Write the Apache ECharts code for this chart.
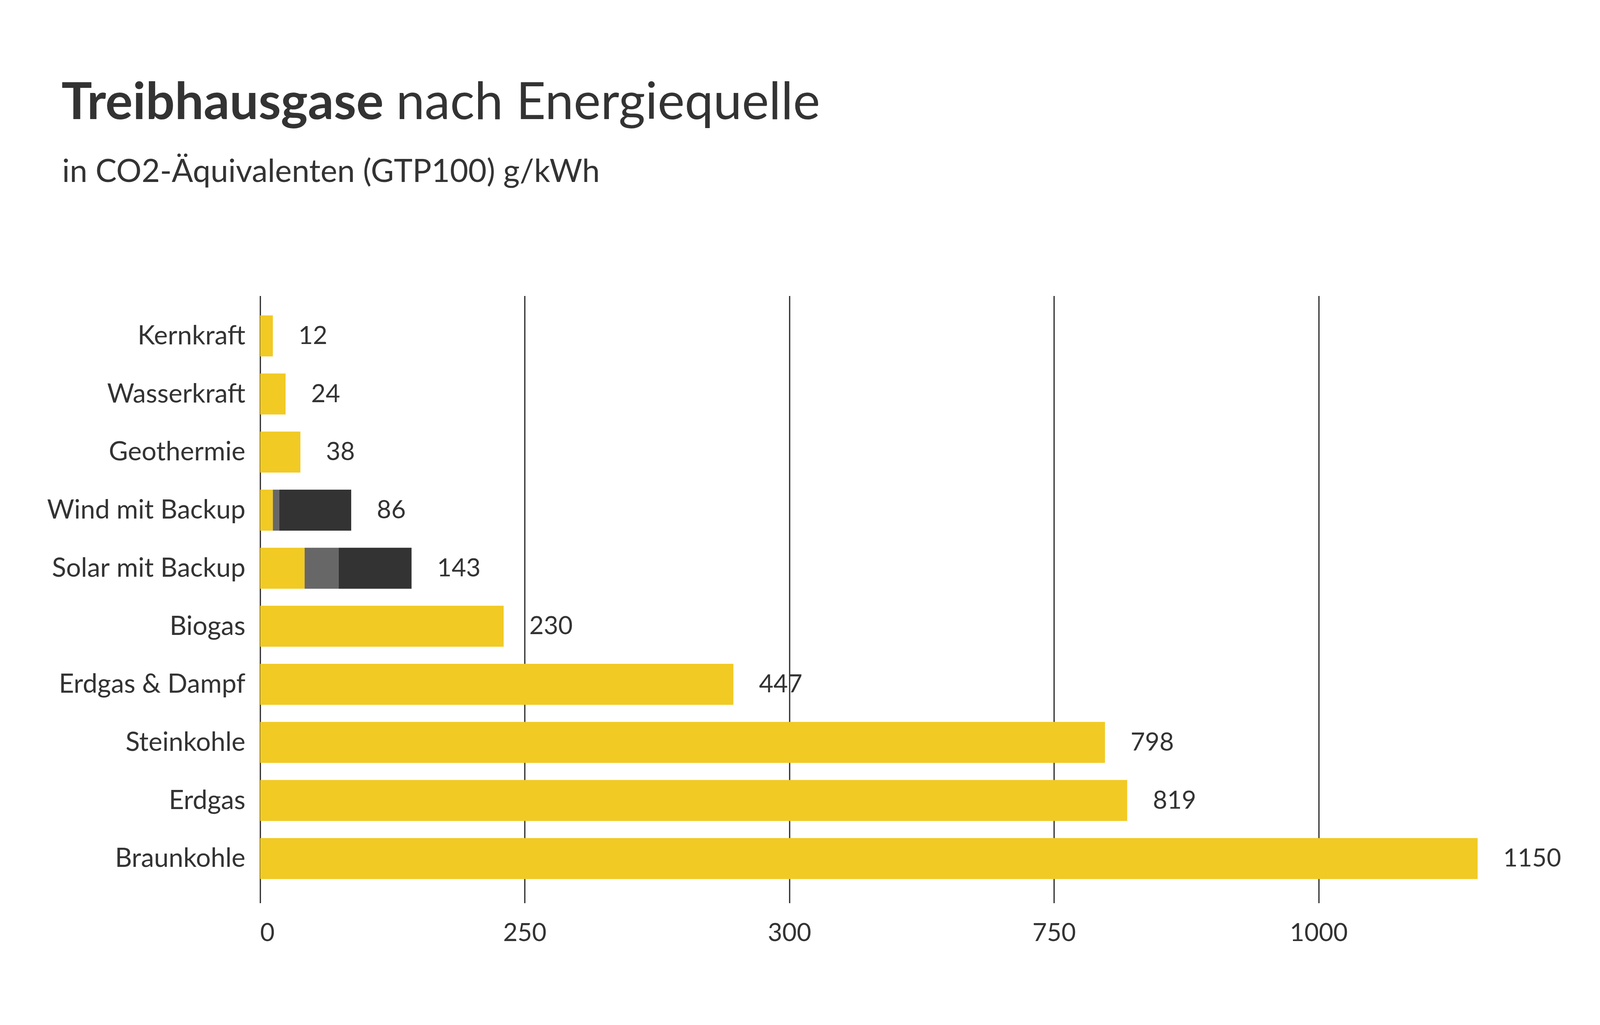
<!DOCTYPE html>
<html>
<head>
<meta charset="utf-8">
<script src="https://cdn.jsdelivr.net/npm/echarts@6/dist/echarts.min.js"></script>
<style>html,body{margin:0;padding:0;background:#fff;overflow:hidden}#c{width:100vw;height:100vh}</style>
</head>
<body>
<div id="c"></div>
<script>
const categories = ['Kernkraft','Wasserkraft','Geothermie','Wind mit Backup','Solar mit Backup','Biogas','Erdgas & Dampf','Steinkohle','Erdgas','Braunkohle'];
const yellowValues = [12, 24, 38, 12, 42, 230, 447, 798, 819, 1150];
const greyValues   = [0, 0, 0, 6, 32, 0, 0, 0, 0, 0];
const darkValues   = [0, 0, 0, 68, 69, 0, 0, 0, 0, 0];
const totals       = [12, 24, 38, 86, 143, 230, 447, 798, 819, 1150];
const tickValues   = [0, 250, 500, 750, 1000];
const tickLabels   = ['0', '250', '300', '750', '1000'];

const FONT = 'Lato';
const TXT = '#333333';
const stacked = greyValues.map((g, i) => g + darkValues[i] > 0);

const el = document.getElementById('c');
const chart = echarts.init(el);
const sx = chart.getWidth() / 5000;
const sy = chart.getHeight() / 2625;
const s = Math.min(sx, sy);
const X = v => v * sx, Y = v => v * sy, F = v => v * s;

const labelBase = { show: true, position: 'right', distance: F(80), color: TXT, fontFamily: FONT, fontSize: F(78) };

chart.setOption({
  backgroundColor: '#ffffff',
  animation: false,
  title: [
    {
      text: '{b|Treibhausgase }{r|nach Energiequelle}',
      left: X(186), top: Y(192),
      textStyle: {
        rich: {
          b: { fontFamily: FONT, fontSize: F(160), fontWeight: 'bold', color: TXT },
          r: { fontFamily: FONT, fontSize: F(160), fontWeight: 'normal', color: TXT }
        }
      }
    },
    {
      text: 'in CO2-Äquivalenten (GTP100) g/kWh',
      left: X(188), top: Y(394),
      textStyle: { fontFamily: FONT, fontSize: F(99), fontWeight: 'normal', color: TXT }
    }
  ],
  grid: [
    { left: X(813), right: X(217), top: Y(786), bottom: Y(352), containLabel: false },
    { left: X(813), right: X(217), top: Y(758), bottom: Y(312), containLabel: false }
  ],
  xAxis: [
    { gridIndex: 0, type: 'value', min: 0, max: 1200, interval: 250,
      axisLine: { show: false }, axisTick: { show: false }, axisLabel: { show: false }, splitLine: { show: false } },
    { gridIndex: 1, type: 'value', min: 0, max: 1200, interval: 250,
      axisLine: { show: false }, axisTick: { show: false },
      splitLine: { show: true, showMaxLine: false, lineStyle: { color: '#333333', width: F(4) } },
      axisLabel: {
        show: true, margin: Y(44), color: TXT, fontFamily: FONT, fontSize: F(78),
        showMaxLabel: false, alignMinLabel: 'left',
        formatter: function (v) { const i = tickValues.indexOf(v); return i >= 0 ? tickLabels[i] : ''; }
      } }
  ],
  yAxis: [
    { gridIndex: 0, type: 'category', data: categories, inverse: true,
      axisLine: { show: false }, axisTick: { show: false }, splitLine: { show: false },
      axisLabel: { margin: X(46), color: TXT, fontFamily: FONT, fontSize: F(82) } },
    { gridIndex: 1, type: 'category', data: categories, inverse: true, show: false }
  ],
  series: [
    { name: 'gridhelper', type: 'bar', xAxisIndex: 1, yAxisIndex: 1, data: [], silent: true },
    { name: 'Anteil A', type: 'bar', stack: 's', xAxisIndex: 0, yAxisIndex: 0, barWidth: Y(105), z: 3,
      itemStyle: { color: '#F1CA24' },
      data: yellowValues.map((v, i) => ({ value: v, label: stacked[i] ? { show: false } : {} })),
      label: Object.assign({}, labelBase, { formatter: p => String(totals[p.dataIndex]) }) },
    { name: 'Anteil B', type: 'bar', stack: 's', xAxisIndex: 0, yAxisIndex: 0, barWidth: Y(105), z: 3,
      itemStyle: { color: '#676767' },
      data: greyValues.map(v => (v > 0 ? v : '-')) },
    { name: 'Anteil C', type: 'bar', stack: 's', xAxisIndex: 0, yAxisIndex: 0, barWidth: Y(105), z: 3,
      itemStyle: { color: '#333333' },
      data: darkValues.map(v => (v > 0 ? v : '-')),
      label: Object.assign({}, labelBase, { formatter: p => String(totals[p.dataIndex]) }) }
  ]
});
</script>
</body>
</html>
